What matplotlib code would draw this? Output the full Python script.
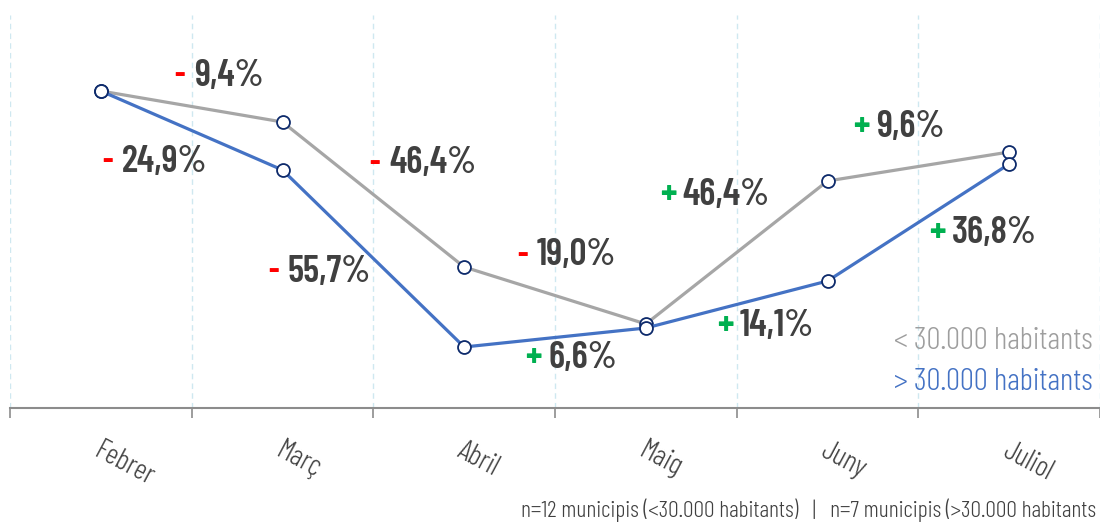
import matplotlib
matplotlib.use("Agg")
import matplotlib.pyplot as plt
import matplotlib.transforms as mtransforms

plt.rcParams['font.family'] = ['Barlow Condensed', 'DejaVu Sans']

months = ["Febrer", "Març", "Abril", "Maig", "Juny", "Juliol"]
small_vals = [317, 286, 141, 84, 227, 256]   # < 30.000 habitants (index)
large_vals = [317, 238, 61, 80, 127, 244]    # > 30.000 habitants
small_changes = ["- 9,4%", "- 46,4%", "- 19,0%", "+ 46,4%", "+ 9,6%"]
large_changes = ["- 24,9%", "- 55,7%", "+ 6,6%", "+ 14,1%", "+ 36,8%"]
legend_labels = ["< 30.000 habitants", "> 30.000 habitants"]
footnote = "n=12 municipis (<30.000 habitants)   |   n=7 municipis (>30.000 habitants"

# label positions (x in category units, y in data units) -- layout only
small_pos = [(0.403, 332), (1.476, 245), (2.29, 153), (3.077, 213), (4.14, 281)]
large_pos = [(0.007, 246), (0.92, 136), (2.335, 50), (3.39, 82), (4.56, 175)]

GRAY = "#A6A6A6"
BLUE = "#4472C4"
NAVY = "#0D2A6B"
TEXT = "#404040"
RED = "#FF0000"
GREEN = "#00B050"

fig = plt.figure(figsize=(11, 5.23), dpi=100)
ax = fig.add_axes([10 / 1100, 1 - 408 / 523, 1090 / 1100, 393 / 523])

x = list(range(len(months)))
mk = dict(marker='o', markersize=9.3, markerfacecolor='white',
          markeredgecolor=NAVY, markeredgewidth=1.3)
ax.plot(x, small_vals, color=GRAY, lw=2.3, zorder=3, **mk)
ax.plot(x, large_vals, color=BLUE, lw=2.3, zorder=4, **mk)

ax.set_xlim(-0.5, len(months) - 0.5)
ax.set_ylim(0, 393)

# vertical dashed grid at category boundaries
for b in range(len(months) + 1):
    ax.axvline(b - 0.5, color="#CFE8F0", lw=1, ls=(0, (4, 3)), zorder=1)

for s in ["top", "right", "left"]:
    ax.spines[s].set_visible(False)
ax.spines["bottom"].set_color("#8C8C8C")
ax.spines["bottom"].set_linewidth(1.5)
ax.set_yticks([])
ax.set_xticks([b - 0.5 for b in range(len(months) + 1)])
ax.set_xticklabels([])
ax.tick_params(axis='x', direction='out', length=7, width=1.2, color="#8C8C8C")

# rotated month labels
trans = mtransforms.blended_transform_factory(ax.transData, ax.transAxes)
for i, m in enumerate(months):
    ax.text(i + 0.01, -0.075, m, transform=trans, rotation=-28, rotation_mode='anchor',
            ha='left', va='top', fontsize=21, fontweight=300, color=TEXT, clip_on=False)

# percentage labels
def put(xp, yp, label):
    sign, num = label.split(" ", 1)
    if sign == "-":
        ax.text(xp, yp, sign, ha='left', va='center', fontsize=23, fontweight='bold', color=RED)
        off = 20
    else:
        ax.text(xp, yp, sign, ha='left', va='center', fontsize=27, fontweight='bold', color=GREEN)
        off = 23
    ax.annotate(num, xy=(xp, yp), xytext=(off, 0), textcoords='offset pixels',
                ha='left', va='center', fontsize=27, fontweight=600, color=TEXT)

for (xp, yp), lab in zip(small_pos, small_changes):
    put(xp, yp, lab)
for (xp, yp), lab in zip(large_pos, large_changes):
    put(xp, yp, lab)

# legend as text
fig.text(1093 / 1100, 1 - 341 / 523, legend_labels[0], ha='right', va='center',
         fontsize=22.5, fontweight=300, color="#9E9E9E")
fig.text(1093 / 1100, 1 - 382 / 523, legend_labels[1], ha='right', va='center',
         fontsize=22.5, fontweight=300, color=BLUE)

fig.text(521 / 1100, 1 - 510 / 523, footnote, ha='left', va='center', fontsize=17,
         fontweight=300, color=TEXT)

fig.savefig("out.png", dpi=100)
